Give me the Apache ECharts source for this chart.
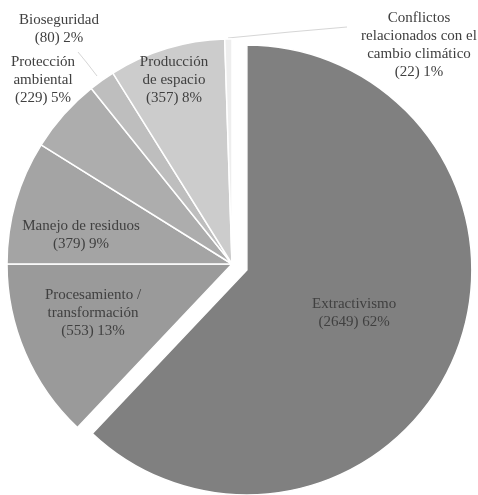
<!DOCTYPE html>
<html>
<head>
<meta charset="utf-8">
<script src="https://cdn.jsdelivr.net/npm/echarts@6/dist/echarts.min.js"></script>
<style>
html,body{margin:0;padding:0;background:#fff;}
#main{width:478px;height:495px;}
</style>
</head>
<body>
<div id="main"></div>
<script>
// Data
var categories = [
  'Extractivismo',
  'Procesamiento /\ntransformación',
  'Manejo de residuos',
  'Protección\nambiental',
  'Bioseguridad',
  'Producción\nde espacio',
  'Conflictos\nrelacionados con el\ncambio climático'
];
var values = [2649, 553, 379, 229, 80, 357, 22];

// Styles / layout (not data)
var colors = ['#808080', '#9a9a9a', '#a4a4a4', '#adadad', '#bebebe', '#cccccc', '#eeeeee'];
var labelCenters = [[370, 279], [93, 313], [81, 235], [43, 80], [59, 29], [174, 80], [419, 45]];
var outsideIdx = {4: [[97, 76], [87, 63], [78, 52]], 6: [[228, 38], [290, 32], [347, 27]]};

var total = values.reduce(function (a, b) { return a + b; }, 0);
var seriesData = categories.map(function (c, i) {
  var item = {
    name: c,
    value: values[i],
    itemStyle: { color: colors[i] },
    select: { itemStyle: { color: colors[i] } }
  };
  if (i === 0) item.selected = true;
  if (outsideIdx[i]) {
    item.label = { position: 'outside' };
    item.labelLine = { show: true, length: 10, length2: 10, lineStyle: { color: '#d6d6d6', width: 1 } };
  } else {
    item.label = { position: 'inside' };
    item.labelLine = { show: false };
  }
  return item;
});

var chart = echarts.init(document.getElementById('main'), null, { renderer: 'canvas' });
chart.setOption({
  backgroundColor: '#ffffff',
  animation: false,
  series: [{
    type: 'pie',
    center: [232, 264],
    radius: [0, 225],
    startAngle: 90,
    clockwise: true,
    selectedMode: 'single',
    selectedOffset: 16,
    avoidLabelOverlap: false,
    itemStyle: { borderColor: '#ffffff', borderWidth: 1.5 },
    emphasis: { disabled: true },
    label: {
      show: true,
      fontFamily: 'Liberation Serif',
      fontSize: 15,
      lineHeight: 18,
      color: '#404040',
      align: 'center',
      formatter: function (p) {
        return p.name + '\n(' + p.value + ') ' + Math.round(p.value / total * 100) + '%';
      }
    },
    labelLayout: function (params) {
      var i = params.dataIndex;
      var c = labelCenters[i];
      var res = { x: c[0], y: c[1], align: 'center', verticalAlign: 'middle' };
      if (outsideIdx[i]) res.labelLinePoints = outsideIdx[i];
      return res;
    },
    data: seriesData
  }]
});
</script>
</body>
</html>
